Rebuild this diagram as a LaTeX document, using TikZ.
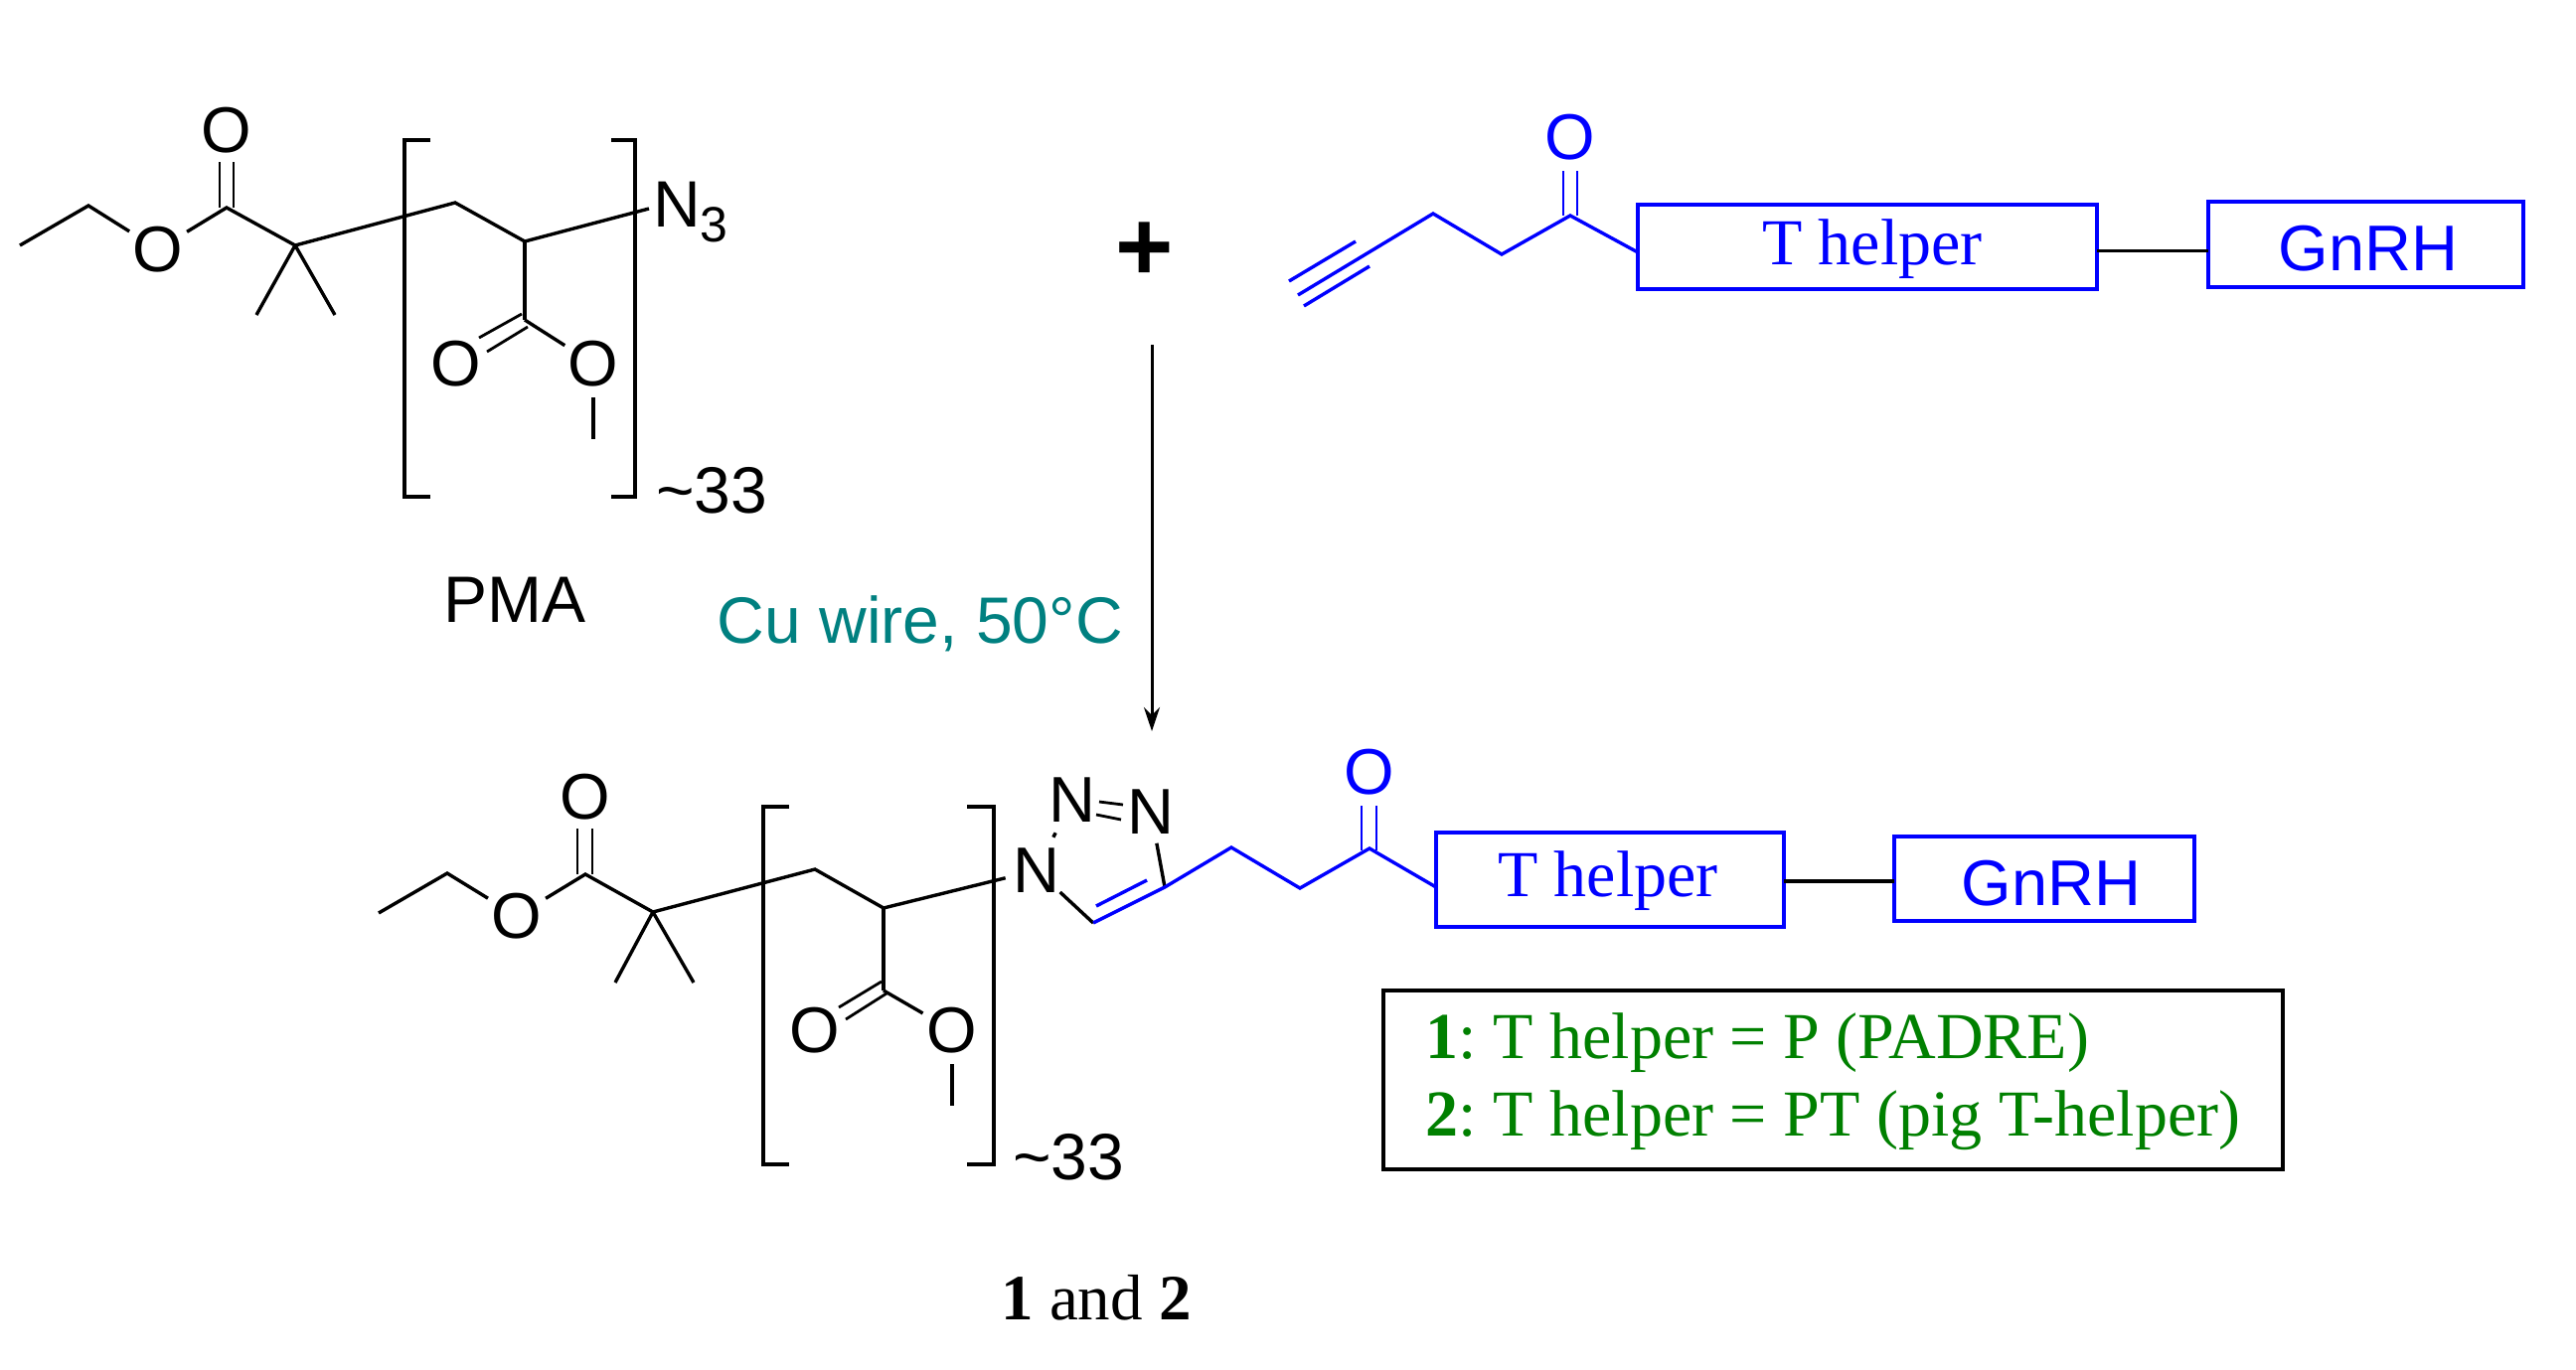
\documentclass[tikz,border=0pt]{standalone}
\usepackage{fontspec}
\setmainfont{Liberation Serif}
\setsansfont{Liberation Sans}
\usetikzlibrary{arrows.meta}
\definecolor{cblue}{RGB}{0,0,255}
\definecolor{cgreen}{RGB}{0,128,0}
\definecolor{cteal}{RGB}{0,128,128}
\tikzset{
  bond/.style={draw=black,line width=3.4pt,line join=miter},
  bluebond/.style={draw=cblue,line width=3.4pt,line join=miter},
  thinbond/.style={draw=black,line width=2.8pt},
  bracketline/.style={draw=black,line width=3.4pt,line join=miter},
  atomlabel/.style={circle,inner sep=0pt,outer sep=0pt,font=\sffamily\fontsize{65}{70}\selectfont},
  blueatom/.style={atomlabel,text=cblue},
  sanslabel/.style={inner sep=0pt,outer sep=0pt,font=\sffamily\fontsize{66}{70}\selectfont},
  helperbox/.style={draw=cblue,line width=3.5pt,inner sep=0pt,outer sep=0pt,anchor=center,text=cblue,font=\fontsize{66}{70}\selectfont},
  gnrhbox/.style={draw=cblue,line width=3.5pt,inner sep=0pt,outer sep=0pt,anchor=center,text=cblue,font=\sffamily\fontsize{65}{70}\selectfont},
  linkbond/.style={draw=black,line width=4pt},
}
\begin{document}
\begin{tikzpicture}[x=1pt,y=-1pt]
\useasboundingbox (0,0) rectangle (2592,1379);
\fill[white] (0,0) rectangle (2592,1379);

% ---------- PMA ----------
\coordinate (a1) at (20,247);
\coordinate (a2) at (89,207);
\node[atomlabel] (aOe) at (159,251) {O};
\coordinate (aC) at (228,209);
\node[atomlabel] (aOt) at (228,131) {O};
\coordinate (aQ) at (297,247);
\coordinate (aMe1) at (258,317);
\coordinate (aMe2) at (337,317);
\coordinate (aCH2) at (458,204);
\coordinate (aCH) at (528,243);
\coordinate (aN) at (653,210);
\coordinate (aE) at (528,322);
\node[atomlabel] (aOl) at (459,366) {O};
\node[atomlabel] (aOr) at (597,366) {O};
\coordinate (aMe3) at (597,442);
\node[sanslabel,anchor=base west] (aN3) at (657,228) {N\raisebox{-15pt}{\fontsize{50}{52}\selectfont 3}};
\node[sanslabel,anchor=base west] (aNum) at (660,516) {\textasciitilde33};
\node[sanslabel,anchor=center] (aPMA) at (518,604) {PMA};

\draw[bond] (a1) -- (a2) -- (aOe);
\draw[bond] (aOe) -- (aC) -- (aQ) -- (aCH2) -- (aCH) -- (aN);
\draw[bond] (aQ) -- (aMe1);
\draw[bond] (aQ) -- (aMe2);
\draw[bond] (aCH) -- (aE);
\draw[bond] (aE) -- (aOr);
\draw[bond] (aOr) -- (aMe3);
\draw[thinbond] ([xshift=-7pt]aC) -- ([xshift=-7pt]aC |- 0,163);
\draw[thinbond] ([xshift=7pt]aC) -- ([xshift=7pt]aC |- 0,163);
\draw[thinbond] (482,340) -- (525,316);
\draw[thinbond] (490,354) -- (531,329);
\draw[bracketline] (433,141) -- (407,141) -- (407,500) -- (433,500);
\draw[bracketline] (615,141) -- (639,141) -- (639,500) -- (615,500);

% ---------- plus, arrow, condition ----------
\node[inner sep=0pt,font=\sffamily\bfseries\fontsize{100}{100}\selectfont] (plus) at (1152,253) {+};
\coordinate (arrS) at (1159,347);
\coordinate (arrE) at (1159,736);
\draw[line width=3pt,-{Stealth[length=24pt,width=16pt]}] (arrS) -- (arrE);
\node[inner sep=0pt,text=cteal,font=\sffamily\fontsize{66}{70}\selectfont,anchor=east] (cond) at (1130,628) {Cu wire, 50°C};

% ---------- alkyne peptide ----------
\coordinate (b0) at (1306,297);
\coordinate (b1) at (1442,215);
\coordinate (b2) at (1511,256);
\coordinate (b3) at (1580,217);
\node[blueatom] (bO) at (1580,138) {O};
\node[helperbox,minimum width=462pt,minimum height=85pt] (bH) at (1879,248.5) {};
\node[gnrhbox,minimum width=317pt,minimum height=86pt] (bG) at (2380.5,246) {};
\node[text=cblue,inner sep=0pt,font=\fontsize{66}{70}\selectfont] (bHt) at (1884,251) {T helper};
\node[text=cblue,inner sep=0pt,font=\sffamily\fontsize{65}{70}\selectfont] (bGt) at (2383,250) {GnRH};
\draw[bluebond] (b0) -- (b1) -- (b2) -- (b3) -- (1648,254);
\draw[bluebond] (1297,283) -- (1364,243);
\draw[bluebond] (1312,308) -- (1378,268);
\draw[bluebond,line width=2.8pt] (1573,172) -- (1573,217);
\draw[bluebond,line width=2.8pt] (1587,172) -- (1587,217);
\draw[linkbond,line width=3pt] (bH.east |- 0,252) -- (bG.west |- 0,252);

% ---------- conjugate ----------
\coordinate (c1) at (381,919);
\coordinate (c2) at (450,879);
\node[atomlabel] (cOe) at (520,922) {O};
\coordinate (cC) at (589,880);
\node[atomlabel] (cOt) at (589,802) {O};
\coordinate (cQ) at (657,918);
\coordinate (cMe1) at (619,989);
\coordinate (cMe2) at (698,989);
\coordinate (cCH2) at (820,875);
\coordinate (cCH) at (889,914);
\coordinate (cE) at (889,997);
\node[atomlabel] (cOl) at (820,1037) {O};
\node[atomlabel] (cOr) at (958,1037) {O};
\coordinate (cMe3) at (958,1113);
\node[atomlabel] (cNl) at (1043,876) {N};
\node[atomlabel] (cNt) at (1079,805) {N};
\node[atomlabel] (cNr) at (1158,817) {N};
\coordinate (c5) at (1100,929);
\coordinate (c4) at (1172,893);
\coordinate (d1) at (1239,853);
\coordinate (d2) at (1308,894);
\coordinate (d3) at (1378,854);
\node[blueatom] (dO) at (1378,777) {O};
\node[helperbox,minimum width=350pt,minimum height=95pt] (dH) at (1620,885.5) {};
\node[gnrhbox,minimum width=302pt,minimum height=85pt] (dG) at (2057,884.5) {};
\node[text=cblue,inner sep=0pt,font=\fontsize{66}{70}\selectfont] (dHt) at (1618,887) {T helper};
\node[text=cblue,inner sep=0pt,font=\sffamily\fontsize{65}{70}\selectfont] (dGt) at (2064,889) {GnRH};
\node[sanslabel,anchor=base west] (cNum) at (1019,1187) {\textasciitilde33};
\node[inner sep=0pt,font=\fontsize{65}{70}\selectfont] (cLab) at (1103,1306) {\textbf{1} and \textbf{2}};

\draw[bond] (c1) -- (c2) -- (cOe);
\draw[bond] (cOe) -- (cC) -- (cQ) -- (cCH2) -- (cCH) -- (cNl);
\draw[bond] (cQ) -- (cMe1);
\draw[bond] (cQ) -- (cMe2);
\draw[bond] (cCH) -- (cE);
\draw[bond] (cE) -- (cOr);
\draw[bond] (cOr) -- (cMe3);
\draw[thinbond] (581,880) -- (581,834);
\draw[thinbond] (596,880) -- (596,834);
\draw[thinbond] (844,1014) -- (887,988);
\draw[thinbond] (851,1026) -- (892,1000);
\draw[bracketline] (794,812) -- (768,812) -- (768,1172) -- (794,1172);
\draw[bracketline] (973,812) -- (1000,812) -- (1000,1172) -- (973,1172);
% triazole
\draw[bond,shorten >=5pt,shorten <=5pt] (cNl) -- (cNt);
\draw[bond] (cNl) -- (c5);
\draw[bond] (cNr) -- (c4);
\draw[thinbond] (1106,807) -- (1130,810);
\draw[thinbond] (1103,820) -- (1128,825);
\draw[bluebond] (c5) -- (c4) -- (d1) -- (d2) -- (d3) -- (dH.west |- 0,893);
\draw[bluebond] (1103,912) -- (1154,886);
\draw[bluebond,line width=2.8pt] (1370,811) -- (1370,856);
\draw[bluebond,line width=2.8pt] (1385,811) -- (1385,856);
\draw[linkbond] (dH.east |- 0,887) -- (dG.west |- 0,887);

% ---------- legend ----------
\node[draw=black,line width=4pt,inner xsep=30pt,inner ysep=0pt,outer sep=0pt,anchor=north west,
      minimum width=905pt,minimum height=180pt,align=left,text=cgreen,
      font=\fontsize{66}{78}\selectfont\frenchspacing] (legend) at (1392,997)
  {\rule{0pt}{50pt}\textbf{1}: T helper = P (PADRE)\\\textbf{2}: T helper = PT (pig T-helper)};
\end{tikzpicture}
\end{document}
